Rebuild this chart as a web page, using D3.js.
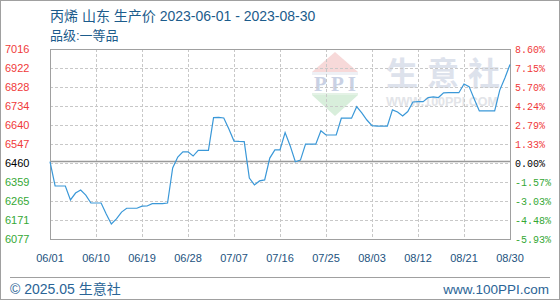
<!DOCTYPE html>
<html>
<head>
<meta charset="utf-8">
<script src="https://cdn.jsdelivr.net/npm/d3@7/dist/d3.min.js"></script>
<style>
  body { margin: 0; background: #fff; }
  svg { display: block; }
</style>
</head>
<body>
<svg id="chart" width="560" height="300"></svg>
<script>
'use strict'

const title = '丙烯 山东 生产价 2023-06-01 - 2023-08-30'
const subTitle = '品级:一等品'
const startDay = new Date(2023, 5, 1)

// daily price, 06/01 .. 08/30
const prices = [
  6460, 6339, 6339, 6339, 6270, 6304, 6319, 6294, 6255, 6255,
  6255, 6201, 6151, 6176, 6210, 6229, 6229, 6229, 6239, 6240,
  6252, 6252, 6252, 6255, 6428, 6482, 6508, 6508, 6487, 6515,
  6515, 6515, 6677, 6678, 6675, 6621, 6561, 6559, 6558, 6378,
  6344, 6364, 6369, 6477, 6517, 6517, 6603, 6537, 6459, 6467,
  6546, 6546, 6546, 6612, 6591, 6591, 6591, 6674, 6674, 6674,
  6731, 6700, 6665, 6637, 6635, 6635, 6635, 6715, 6705, 6685,
  6707, 6754, 6756, 6756, 6776, 6779, 6776, 6799, 6800, 6800,
  6800, 6843, 6830, 6769, 6710, 6710, 6710, 6710, 6813, 6873,
  6939
]

const xTickLabels = ['06/01', '06/10', '06/19', '06/28', '07/07', '07/16', '07/25', '08/03', '08/12', '08/21', '08/30']
const leftLabels = ['7016', '6922', '6828', '6734', '6640', '6547', '6460', '6359', '6265', '6171', '6077']
const rightLabels = ['8.60%', '7.15%', '5.70%', '4.24%', '2.79%', '1.33%', '0.00%', '-1.57%', '-3.03%', '-4.48%', '-5.93%']
const basePrice = 6460
const yMin = 6077
const yMax = 7016

const svg = d3.select('#chart')
const W = 560, H = 300
const plot = { left: 50, right: 510, top: 49, bottom: 239 }

const days = prices.map((v, i) => ({ date: d3.timeDay.offset(startDay, i), value: v }))
const tickDates = xTickLabels.map(s => new Date(2023, +s.split('/')[0] - 1, +s.split('/')[1]))

const x = d3.scaleTime()
  .domain([startDay, days[days.length - 1].date])
  .range([plot.left, plot.right])

const y = d3.scaleLinear()
  .domain([yMin, yMax])
  .range([plot.bottom, plot.top])

// evenly spaced grid positions, labels come from the arrays
const gridVals = d3.range(leftLabels.length).map(i => yMax - i * (yMax - yMin) / (leftLabels.length - 1))

const colorFor = v => v > basePrice ? '#f03a3a' : v < basePrice ? '#35a835' : '#000'

// outer frame
svg.append('rect')
  .attr('x', 0.5).attr('y', 0.5)
  .attr('width', W - 1).attr('height', H - 1)
  .attr('fill', '#fff').attr('stroke', '#a0a0a0')

// titles
svg.append('text')
  .attr('x', 50).attr('y', 21)
  .attr('fill', '#1c5c8c')
  .style('font', '14px "Liberation Sans", "Noto Sans CJK SC", sans-serif')
  .text(title)
svg.append('text')
  .attr('x', 50).attr('y', 40)
  .attr('fill', '#1c5c8c')
  .style('font', '13px "Liberation Sans", "Noto Sans CJK SC", sans-serif')
  .text(subTitle)

// watermark
const wm = svg.append('g').attr('class', 'watermark')
const lx = 335
wm.append('path')
  .attr('d', `M${lx},52 L${lx + 23},72 L${lx - 23},72 Z`)
  .attr('fill', '#f7d9d9')
wm.append('rect')
  .attr('x', lx - 23).attr('y', 72).attr('width', 46).attr('height', 3)
  .attr('fill', '#eef0f5')
wm.append('text')
  .attr('x', lx + 2).attr('y', 91)
  .attr('text-anchor', 'middle')
  .attr('fill', '#c9d1e4')
  .style('font', 'bold 21px "Liberation Serif", serif')
  .style('letter-spacing', '4px')
  .text('PPI')
wm.append('rect')
  .attr('x', lx - 23).attr('y', 93).attr('width', 46).attr('height', 2)
  .attr('fill', '#e4f2e6')
wm.append('path')
  .attr('d', `M${lx - 23},95 L${lx + 23},95 L${lx},116 Z`)
  .attr('fill', '#d8eedb')
wm.append('text')
  .attr('x', 386).attr('y', 85)
  .attr('fill', '#dde2ec')
  .style('font', 'bold 32px "Noto Sans CJK SC", sans-serif')
  .style('letter-spacing', '9px')
  .text('生意社')
wm.append('text')
  .attr('x', 386).attr('y', 106)
  .attr('fill', '#e2e4e8')
  .style('font', 'bold 12.5px "Liberation Sans", sans-serif')
  .text('WWW.100PPI.COM')

// grid
const grid = svg.append('g').attr('stroke', '#c8c8c8').attr('stroke-dasharray', '3,2')
grid.selectAll('line.h')
  .data(gridVals.slice(1, -1))
  .join('line')
  .attr('class', 'h')
  .attr('x1', plot.left).attr('x2', plot.right)
  .attr('y1', d => Math.round(y(d)) + 0.5).attr('y2', d => Math.round(y(d)) + 0.5)
grid.selectAll('line.v')
  .data(tickDates.slice(1, -1))
  .join('line')
  .attr('class', 'v')
  .attr('y1', plot.top).attr('y2', plot.bottom)
  .attr('x1', d => Math.round(x(d)) + 0.5).attr('x2', d => Math.round(x(d)) + 0.5)

// base price line
svg.append('line')
  .attr('x1', plot.left).attr('x2', plot.right)
  .attr('y1', y(basePrice)).attr('y2', y(basePrice))
  .attr('stroke', '#999').attr('stroke-width', 1.5)

// plot frame
svg.append('rect')
  .attr('x', plot.left + 0.5).attr('y', plot.top + 0.5)
  .attr('width', plot.right - plot.left).attr('height', plot.bottom - plot.top)
  .attr('fill', 'none').attr('stroke', '#a0a0a0')

// price line
const line = d3.line()
  .x(d => x(d.date))
  .y(d => y(d.value))
svg.append('path')
  .datum(days)
  .attr('d', line)
  .attr('fill', 'none')
  .attr('stroke', '#3a98d8')
  .attr('stroke-width', 1.2)

// left labels
svg.append('g').selectAll('text')
  .data(leftLabels)
  .join('text')
  .attr('x', 5)
  .attr('y', (d, i) => y(gridVals[i]))
  .attr('dy', '0.35em')
  .attr('fill', d => colorFor(+d))
  .style('font', '11px "Liberation Sans", Arial, sans-serif')
  .text(d => d)

// right labels
svg.append('g').selectAll('text')
  .data(rightLabels)
  .join('text')
  .attr('x', 515)
  .attr('y', (d, i) => y(gridVals[i]))
  .attr('dy', '0.35em')
  .attr('fill', (d, i) => colorFor(+leftLabels[i]))
  .style('font', '10px "Liberation Mono", "DejaVu Sans Mono", monospace')
  .text(d => d)

// x labels
svg.append('g').selectAll('text')
  .data(xTickLabels)
  .join('text')
  .attr('x', (d, i) => x(tickDates[i]))
  .attr('y', 262)
  .attr('text-anchor', 'middle')
  .attr('fill', '#1c527e')
  .style('font', '11px "Liberation Sans", Arial, sans-serif')
  .text(d => d)

// footer
svg.append('line')
  .attr('x1', 10).attr('x2', 550)
  .attr('y1', 277.5).attr('y2', 277.5)
  .attr('stroke', '#a0a0a0')
svg.append('text')
  .attr('x', 10).attr('y', 294)
  .attr('fill', '#2a6496')
  .style('font', '14px "Liberation Sans", "Noto Sans CJK SC", sans-serif')
  .text('© 2025.05 生意社')
svg.append('text')
  .attr('x', 549).attr('y', 294)
  .attr('text-anchor', 'end')
  .attr('fill', '#2a6496')
  .style('font', '13.5px "Liberation Sans", sans-serif')
  .text('www.100PPI.com')
</script>
</body>
</html>
